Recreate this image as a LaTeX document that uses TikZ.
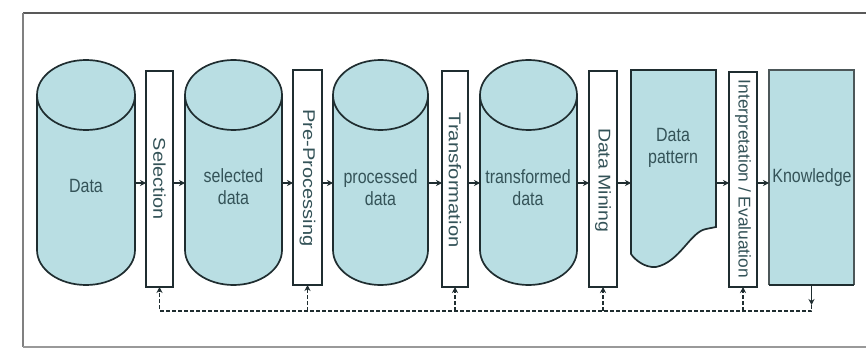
\documentclass[tikz,border=0pt]{standalone}
\usepackage{fontspec}
\setmainfont{Liberation Sans}
\usetikzlibrary{arrows.meta}
\definecolor{cylfill}{HTML}{B9DEE3}
\definecolor{edgec}{HTML}{1F2D30}
\definecolor{txtc}{HTML}{345358}
\newcommand{\hlab}[1]{\scalebox{1}[1.2]{\begin{tabular}{@{}c@{}}#1\end{tabular}}}
\newcommand{\vlab}[2]{\resizebox{#1}{\height}{#2}}
\newcommand{\drawcyl}[4]{%
  \pgfmathsetmacro\cylrx{(#2-#1)/2}%
  \path[shapefill] (#1,-#3-35) -- (#1,-#4+35)
    arc[start angle=180,end angle=360,x radius=\cylrx,y radius=35]
    -- (#2,-#3-35)
    arc[start angle=0,end angle=180,x radius=\cylrx,y radius=35] -- cycle;
  \draw[draw=edgec, line width=1.7pt] (#1,-#3-35)
    arc[start angle=180,end angle=360,x radius=\cylrx,y radius=35];
}
\begin{document}
\begin{tikzpicture}[x=1pt,y=1pt,
  area/.style={draw=none, inner sep=0, outer sep=0, rectangle},
  stepbox/.style={draw=edgec, line width=1.8pt, fill=white, inner sep=0, outer sep=0, rectangle},
  shapefill/.style={fill=cylfill, draw=edgec, line width=1.7pt},
  lbl/.style={text=txtc, font=\fontsize{16}{19}\selectfont, inner sep=0},
  vlbl/.style={text=txtc, font=\fontsize{17}{20}\selectfont, inner sep=0, rotate=-90},
  arr/.style={draw=edgec, line width=1.7pt, -{Stealth[length=6pt,width=6pt]}},
  fbline/.style={draw=edgec, line width=1.6pt, dash pattern=on 4pt off 2pt},
]
\useasboundingbox (0,0) rectangle (866,-358);
\fill[white] (0,0) rectangle (866,-358);

% frame
\draw[line width=2.2pt, color=black!65] (866,-13) -- (23,-13);
\draw[line width=1.8pt, color=black!50] (23,-13) -- (23,-347);
\draw[line width=2.2pt, color=black!40] (23,-347) -- (866,-347);

\coordinate (ay) at (0,-183);
\coordinate (fb) at (0,-311);
\coordinate (fbk) at (0,-305);

% cylinders
\drawcyl{37}{135}{60}{285}
\drawcyl{185}{282}{60}{285}
\drawcyl{333}{428}{60}{285}
\drawcyl{480}{577}{60}{285}
\node[area, minimum width=98, minimum height=225] (d1) at (86,-172.5) {};
\node[area, minimum width=97, minimum height=225] (d2) at (233.5,-172.5) {};
\node[area, minimum width=95, minimum height=225] (d3) at (380.5,-172.5) {};
\node[area, minimum width=97, minimum height=225] (d4) at (528.5,-172.5) {};

% step boxes
\node[stepbox, minimum width=27, minimum height=216] (sel) at (159.5,-179) {};
\node[stepbox, minimum width=29, minimum height=215] (pre) at (307.5,-177.5) {};
\node[stepbox, minimum width=26, minimum height=216] (tr) at (455,-179) {};
\node[stepbox, minimum width=28, minimum height=216] (dm) at (603,-179) {};
\node[stepbox, minimum width=28, minimum height=215] (ie) at (743,-179.5) {};

% data pattern
\node[area, minimum width=85, minimum height=215] (dp) at (673.5,-177.5) {};
\path[shapefill] (631,-70) -- (716,-70) -- (716,-227) -- (706,-229)
  .. controls (690,-232) and (680,-262) .. (656,-267)
  .. controls (645,-268) and (635,-260) .. (631,-254) -- cycle;

% knowledge
\node[area, minimum width=85, minimum height=215] (kn) at (811.5,-177.5) {};
\fill[cylfill] (kn.north west) rectangle (kn.south east);
\draw[draw=edgec!80, line width=1.3pt] (kn.south west) -- (kn.north west) -- (kn.north east) -- (kn.south east);
\draw[draw=edgec, line width=2.4pt] (kn.south west) -- (kn.south east);

% labels
\node[lbl] (l1) at (86,-188) {\hlab{Data}};
\node[lbl] (l2) at (233.5,-189) {\hlab{selected\\data}};
\node[lbl] (l3) at (380.5,-190) {\hlab{processed\\data}};
\node[lbl] (l4) at (528,-190) {\hlab{transformed\\data}};
\node[lbl] (l5) at (673,-148) {\hlab{Data\\pattern}};
\node[lbl] (l6) at (812,-178) {\hlab{Knowledge}};

\node[vlbl] (v1) at (159.5,-179) {\vlab{82pt}{Selection}};
\node[vlbl] (v2) at (307.5,-178) {\vlab{137pt}{Pre-Processing}};
\node[vlbl] (v3) at (455,-180) {\vlab{135pt}{Transformation}};
\node[vlbl] (v4) at (603,-180) {\vlab{104pt}{Data Mining}};
\node[vlbl] (v5) at (743,-179) {\vlab{198pt}{Interpretation / Evaluation}};

% forward arrows
\draw[arr] (d1.east |- ay) -- (sel.west |- ay);
\draw[arr] (sel.east |- ay) -- (d2.west |- ay);
\draw[arr] (d2.east |- ay) -- (pre.west |- ay);
\draw[arr] (pre.east |- ay) -- (d3.west |- ay);
\draw[arr] (d3.east |- ay) -- (tr.west |- ay);
\draw[arr] (tr.east |- ay) -- (d4.west |- ay);
\draw[arr] (d4.east |- ay) -- (dm.west |- ay);
\draw[arr] (dm.east |- ay) -- (dp.west |- ay);
\draw[arr] (dp.east |- ay) -- (ie.west |- ay);
\draw[arr] (ie.east |- ay) -- (kn.west |- ay);

% feedback
\draw[arr] (kn.south) -- (kn.south |- fbk);
\draw[fbline, -{Stealth[length=6pt,width=6pt]}] (kn.south |- fbk) -- (kn.south |- fb) -- (sel.south |- fb) -- (sel.south);
\draw[fbline, -{Stealth[length=6pt,width=6pt]}] (pre.south |- fb) -- (pre.south);
\draw[fbline, -{Stealth[length=6pt,width=6pt]}] (tr.south |- fb) -- (tr.south);
\draw[fbline, -{Stealth[length=6pt,width=6pt]}] (dm.south |- fb) -- (dm.south);
\draw[fbline, -{Stealth[length=6pt,width=6pt]}] (ie.south |- fb) -- (ie.south);
\end{tikzpicture}
\end{document}
